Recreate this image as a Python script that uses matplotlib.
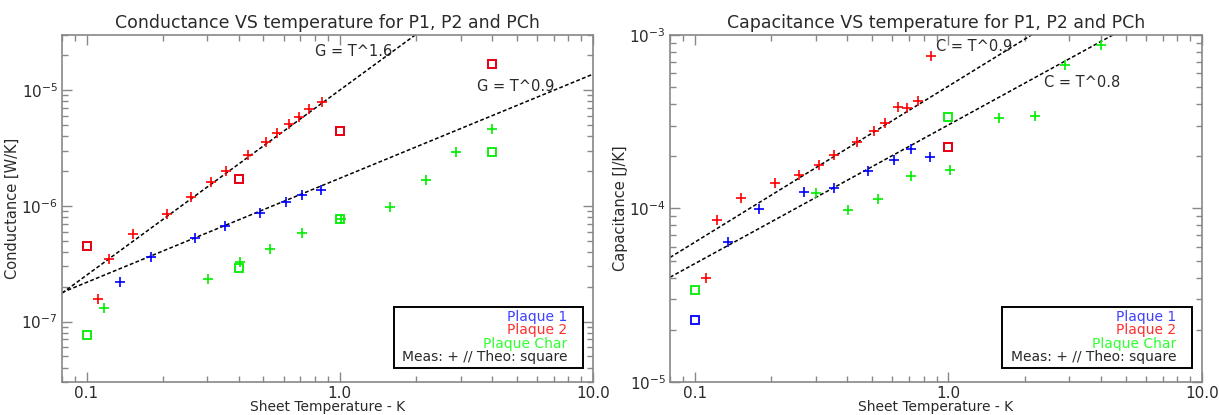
import numpy as np
import matplotlib
matplotlib.use("Agg")
import matplotlib.pyplot as plt
from matplotlib.ticker import LogLocator, FuncFormatter, NullFormatter

# Sheet temperatures (K)
t_p1 = [0.136, 0.180, 0.269, 0.353, 0.484, 0.612, 0.712, 0.847]
t_p2 = [0.111, 0.1225, 0.153, 0.208, 0.258, 0.309, 0.354, 0.436,
        0.510, 0.565, 0.631, 0.688, 0.759, 0.851]
t_pch = [0.117, 0.302, 0.403, 0.530, 0.712, 1.012, 1.58, 2.20, 2.87, 4.0]
t_pch_c = [0.302, 0.403, 0.530, 0.712, 1.012, 1.58, 2.20, 2.87, 4.0]

# Conductance, measured (W/K)
g_p1 = [2.21e-7, 3.61e-7, 5.31e-7, 6.65e-7, 8.68e-7, 1.07e-6, 1.23e-6, 1.38e-6]
g_p2 = [1.56e-7, 3.47e-7, 5.66e-7, 8.56e-7, 1.19e-6, 1.60e-6, 1.99e-6, 2.77e-6,
        3.55e-6, 4.28e-6, 5.08e-6, 5.84e-6, 6.81e-6, 7.94e-6]
g_pch = [1.32e-7, 2.34e-7, 3.29e-7, 4.26e-7, 5.78e-7, 7.75e-7, 9.75e-7,
         1.68e-6, 2.95e-6, 4.66e-6]

# Conductance, theoretical
t_theo = [0.1, 0.4, 1.0, 4.0]
g_theo_p1 = [4.5e-7, 1.69e-6, 4.42e-6, 1.67e-5]
g_theo_p2 = [4.5e-7, 1.69e-6, 4.42e-6, 1.67e-5]
g_theo_pch = [7.7e-8, 2.9e-7, 7.75e-7, 2.9e-6]

# Capacitance, measured (J/K)
c_p1 = [6.44e-5, 9.9e-5, 1.24e-4, 1.32e-4, 1.645e-4, 1.90e-4, 2.21e-4, 1.97e-4]
c_p2 = [3.99e-5, 8.59e-5, 1.155e-4, 1.40e-4, 1.56e-4, 1.79e-4, 2.03e-4, 2.42e-4,
        2.79e-4, 3.10e-4, 3.83e-4, 3.80e-4, 4.17e-4, 7.60e-4]
c_pch = [1.23e-4, 9.80e-5, 1.14e-4, 1.53e-4, 1.67e-4, 3.31e-4, 3.40e-4,
         6.69e-4, 8.72e-4]

# Capacitance, theoretical
tc_theo_p1 = [0.1, 1.0]
c_theo_p1 = [2.28e-5, 2.27e-4]
tc_theo_p2 = [1.0]
c_theo_p2 = [2.27e-4]
tc_theo_pch = [0.1, 1.0]
c_theo_pch = [3.39e-5, 3.38e-4]

# power-law fits: (prefactor at T=1, exponent, label)
g_fits = [(1.0e-5, 1.6, "G = T^1.6"), (1.73e-6, 0.9, "G = T^0.9")]
c_fits = [(5.07e-4, 0.9, "C = T^0.9"), (3.03e-4, 0.8, "C = T^0.8")]

BLUE, RED, GREEN = "#0000ff", "#ff0000", "#00ee00"
TXT = "#2a2a2a"
AX = "#888888"

plt.rcParams['font.family'] = ['DejaVu Sans']

fig = plt.figure(figsize=(12.2, 4.15), dpi=100)
ax1 = fig.add_axes([0.0508, 0.0795, 0.4352, 0.8362])
ax2 = fig.add_axes([0.5492, 0.0795, 0.4361, 0.8362])

t_line = np.logspace(np.log10(0.08), 1, 200)


def style_axes(ax, ylim, title, ylabel):
    ax.set_xscale('log')
    ax.set_yscale('log')
    ax.set_xlim(0.08, 10)
    ax.set_ylim(*ylim)
    for s in ax.spines.values():
        s.set_color(AX)
        s.set_linewidth(1.2)
    ax.xaxis.set_major_locator(LogLocator(base=10))
    ax.xaxis.set_minor_locator(LogLocator(base=10, subs=np.arange(2, 10)))
    ax.xaxis.set_major_formatter(FuncFormatter(lambda v, p: f"{v:.1f}"))
    ax.xaxis.set_minor_formatter(NullFormatter())
    ax.yaxis.set_minor_locator(LogLocator(base=10, subs=np.arange(2, 10)))
    ax.yaxis.set_minor_formatter(NullFormatter())
    ax.tick_params(which='both', direction='in', top=True, right=True,
                   color=AX, width=1, labelcolor=TXT, labelsize=11, pad=4)
    ax.tick_params(axis='y', pad=3)
    ax.tick_params(axis='x', pad=3)
    ax.tick_params(which='major', length=7)
    ax.tick_params(which='minor', length=4)
    ax.set_title(title, fontsize=12.5, color=TXT, pad=5)
    ax.set_ylabel(ylabel, fontsize=10.5, color=TXT, labelpad=1)
    ax.set_xlabel("Sheet Temperature - K", fontsize=10, color=TXT, labelpad=-1)


def legend_box(ax):
    ax.add_patch(plt.Rectangle((0.6248, 0.04), 0.3559, 0.176, transform=ax.transAxes,
                               fill=False, edgecolor='black', linewidth=1.4, zorder=5))
    ys = [0.187, 0.149, 0.109, 0.071]
    texts = ["Plaque 1", "Plaque 2", "Plaque Char", "Meas: + // Theo: square"]
    cols = ["#4040ff", "#ff3030", "#30ff30", TXT]
    for y, s, c in zip(ys, texts, cols):
        ax.text(0.952, y, s, transform=ax.transAxes, ha='right', va='center',
                fontsize=10, color=c, zorder=6)


pk = dict(linestyle='none', marker='+', markersize=7, markeredgewidth=1.2)
sq = dict(linestyle='none', marker='s', markersize=5.5, markeredgewidth=1.3,
          markerfacecolor='none')
dash = dict(color='black', linewidth=1.1, linestyle=(0, (2.5, 1.5)))

# --- conductance ---
style_axes(ax1, (3e-8, 3e-5), "Conductance VS temperature for P1, P2 and PCh",
           "Conductance [W/K]")
for a, p, lab in g_fits:
    ax1.plot(t_line, a * t_line ** p, **dash)
ax1.plot(t_p1, g_p1, color=BLUE, **pk)
ax1.plot(t_p2, g_p2, color=RED, **pk)
ax1.plot(t_pch, g_pch, color=GREEN, **pk)
ax1.plot(t_theo, g_theo_p1, color=BLUE, **sq)
ax1.plot(t_theo, g_theo_p2, color=RED, **sq)
ax1.plot(t_theo, g_theo_pch, color=GREEN, **sq)
ax1.text(0.80, 2.16e-5, g_fits[0][2], fontsize=10.5, color=TXT, ha='left', va='center')
ax1.text(3.5, 1.08e-5, g_fits[1][2], fontsize=10.5, color=TXT, ha='left', va='center')
legend_box(ax1)

# --- capacitance ---
style_axes(ax2, (1e-5, 1e-3), "Capacitance VS temperature for P1, P2 and PCh",
           "Capacitance [J/K]")
for a, p, lab in c_fits:
    ax2.plot(t_line, a * t_line ** p, **dash)
ax2.plot(t_p1, c_p1, color=BLUE, **pk)
ax2.plot(t_p2, c_p2, color=RED, **pk)
ax2.plot(t_pch_c, c_pch, color=GREEN, **pk)
ax2.plot(tc_theo_p1, c_theo_p1, color=BLUE, **sq)
ax2.plot(tc_theo_p2, c_theo_p2, color=RED, **sq)
ax2.plot(tc_theo_pch, c_theo_pch, color=GREEN, **sq)
ax2.text(0.893, 8.56e-4, c_fits[0][2], fontsize=10.5, color=TXT, ha='left', va='center')
ax2.text(2.38, 5.31e-4, c_fits[1][2], fontsize=10.5, color=TXT, ha='left', va='center')
legend_box(ax2)

fig.savefig("out.png", dpi=100)
